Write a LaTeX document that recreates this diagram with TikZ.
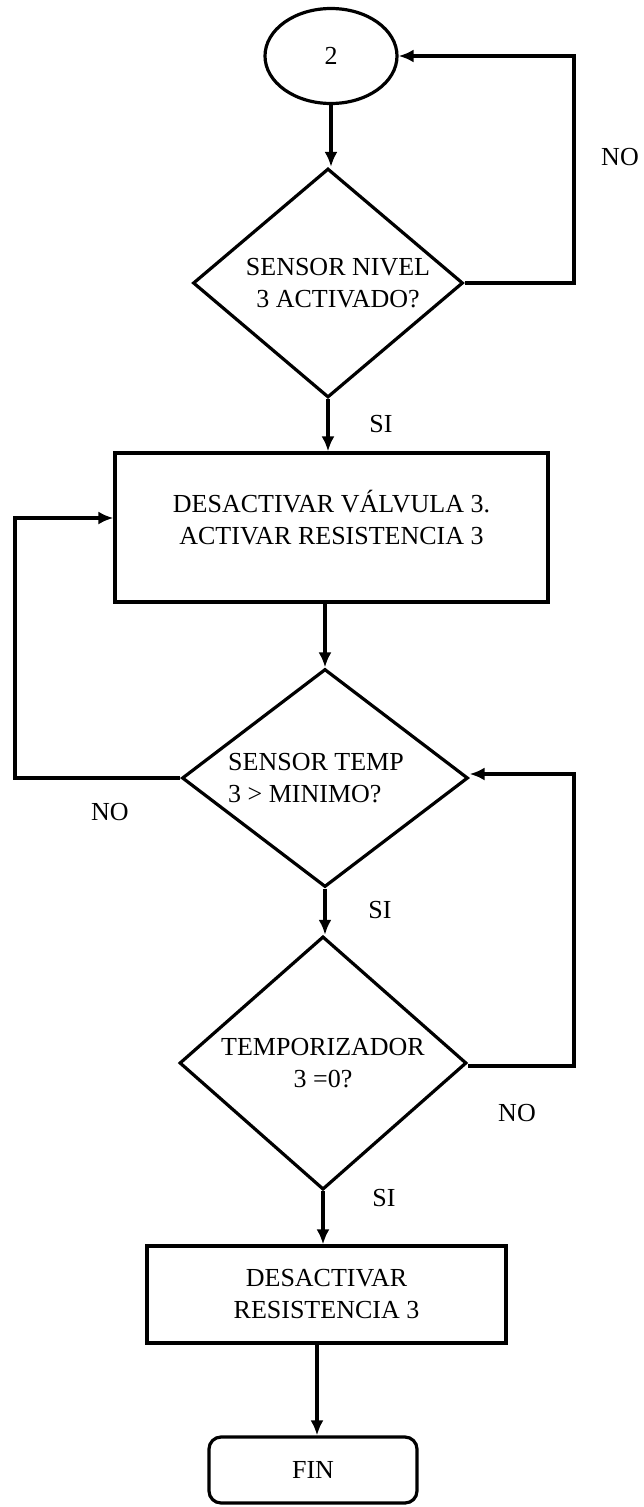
\documentclass[tikz,border=0pt]{standalone}
\usepackage{fontspec}
\setmainfont{Liberation Serif}
\usetikzlibrary{shapes.geometric,arrows.meta}
\begin{document}
\begin{tikzpicture}[x=1pt,y=-1pt,
  every node/.style={font=\fontsize{26pt}{32pt}\selectfont},
  shapebase/.style={draw, line width=3.2pt, inner sep=0pt, align=center},
  oval/.style={shapebase, ellipse},
  decision/.style={shapebase, diamond},
  process/.style={shapebase, rectangle},
  terminal/.style={shapebase, rectangle, rounded corners=12pt},
  arr/.style={line width=3.2pt, -{Latex[length=15pt,width=13pt]}},
  lbl/.style={inner sep=0pt}]
\useasboundingbox (0,0) rectangle (644,1507);
\fill[white] (0,0) rectangle (644,1507);

% flowchart blocks
\node[oval, minimum width=132pt, minimum height=95pt] (start) at (331,56) {2};
\node[decision, minimum width=270pt, minimum height=229pt] (d1) at (328,283) {};
\node[lbl, align=center] (d1t) at ([xshift=10pt]d1.center) {SENSOR NIVEL\\3 ACTIVADO?};
\node[process, minimum width=433pt, minimum height=149pt] (r1) at (331.5,527.5) {};
\node[lbl, align=center] (r1t) at ([yshift=9.5pt]r1.center)
  {DESACTIVAR VÁLVULA 3.\\ACTIVAR RESISTENCIA 3};
\node[decision, minimum width=286pt, minimum height=218pt] (d2) at (325,778) {};
\node[lbl, align=left, anchor=west] (d2t) at (228,778) {SENSOR TEMP\\3 > MINIMO?};
\node[decision, minimum width=287pt, minimum height=221pt] (d3) at (323,1063)
  {TEMPORIZADOR\\3 =0?};
\node[process, minimum width=359pt, minimum height=97pt] (r2) at (326.5,1294.5)
  {DESACTIVAR\\RESISTENCIA 3};
\node[terminal, minimum width=208pt, minimum height=66pt] (fin) at (313,1470) {FIN};

% turning points of the loop-back lines
\coordinate (loopR) at (574,0);
\coordinate (loopL) at (15,0);

% main flow
\draw[arr] (start.south) -- (start.south |- d1.north);
\draw[arr] (d1.south) -- (d1.south |- r1.north);
\draw[arr] (d2.north |- r1.south) -- (d2.north);
\draw[arr] (d2.south) -- (d2.south |- d3.north);
\draw[arr] (d3.south) -- (d3.south |- r2.north);
\draw[arr] ([xshift=-9.5pt]r2.south) -- ([xshift=-9.5pt]r2.south |- fin.north);

% loop-backs
\draw[arr] (d1.east) -- (d1.east -| loopR) |- (start.east);
\draw[arr] (d2.west) -- (d2.west -| loopL) |- ([yshift=9.5pt]r1.west);
\draw[arr] ([yshift=-3pt]d3.east) -- ([yshift=-3pt]d3.east -| loopR) |- ([yshift=4pt]d2.east);

% branch labels
\node[lbl] (no1) at (620,157) {NO};
\node[lbl] (si1) at (381,424) {SI};
\node[lbl] (no2) at (110,812) {NO};
\node[lbl] (si2) at (380,910) {SI};
\node[lbl] (no3) at (517,1113) {NO};
\node[lbl] (si3) at (384,1198) {SI};
\end{tikzpicture}
\end{document}
